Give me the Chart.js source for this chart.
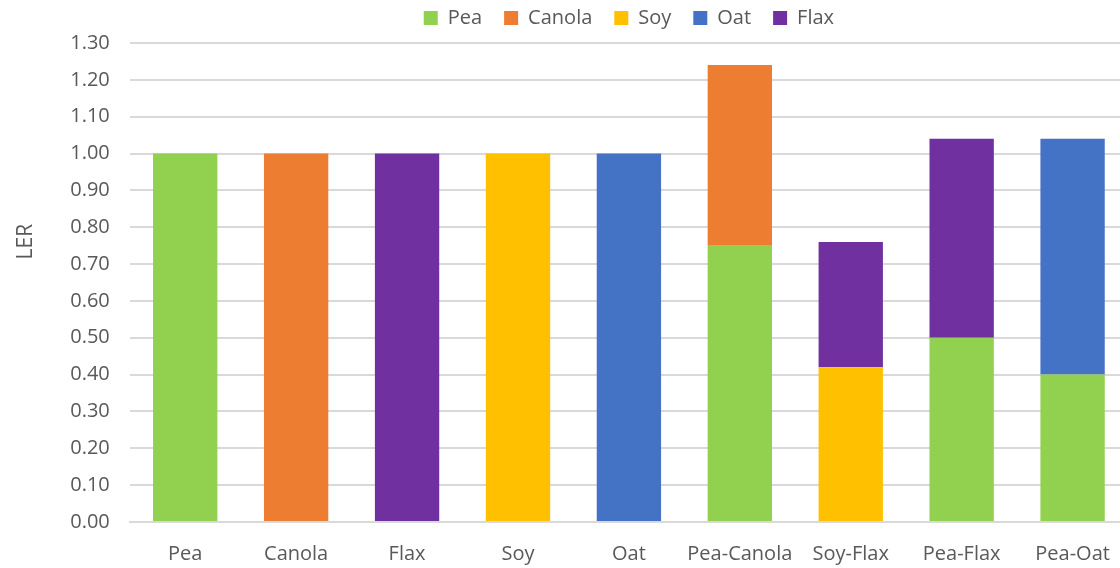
<!DOCTYPE html>
<html>
<head>
<meta charset="utf-8">
<script src="https://cdn.jsdelivr.net/npm/chart.js@4/dist/chart.umd.min.js"></script>
<style>
  html, body { margin: 0; padding: 0; background: #fff; overflow: hidden; }
  #wrap { width: 1130px; height: 568px; }
</style>
</head>
<body>
<div id="wrap"><canvas id="chart"></canvas></div>
<script>
const categories = ["Pea", "Canola", "Flax", "Soy", "Oat", "Pea-Canola", "Soy-Flax", "Pea-Flax", "Pea-Oat"]
const pea    = [1.00, null, null, null, null, 0.75, null, 0.50, 0.40]
const canola = [null, 1.00, null, null, null, 0.49, null, null, null]
const soy    = [null, null, null, 1.00, null, null, 0.42, null, null]
const oat    = [null, null, null, null, 1.00, null, null, null, 0.64]
const flax   = [null, null, 1.00, null, null, null, 0.34, 0.54, null]

const fontFamily = "'Open Sans', 'Liberation Sans', sans-serif"

function ds(label, values, color) {
    return {
        label: label,
        data: values,
        backgroundColor: color,
        borderWidth: 0,
        categoryPercentage: 0.58,
        barPercentage: 1.0
    }
}

// a bit more room under the legend
legendGap = {
    id: "legendGap",
    beforeInit(chart) {
        const fit = chart.legend.fit
        chart.legend.fit = function() {
            fit.bind(chart.legend)()
            this.height += 5
        }
    }
}

data = {
    labels: categories,
    datasets: [
        ds("Pea", pea, "#92D050"),
        ds("Canola", canola, "#ED7D31"),
        ds("Soy", soy, "#FFC000"),
        ds("Oat", oat, "#4472C4"),
        ds("Flax", flax, "#7030A0")
    ]
}

config = {
    type: "bar",
    data: data,
    plugins: [legendGap],
    options: {
        responsive: true,
        maintainAspectRatio: false,
        animation: false,
        layout: { padding: { left: 9, right: 0, top: -14, bottom: -18 } },
        plugins: {
            legend: {
                position: "top",
                fullSize: false,
                labels: {
                    boxWidth: 14,
                    boxHeight: 14,
                    padding: 22,
                    color: "#595959",
                    font: { family: fontFamily, size: 20 }
                }
            },
            tooltip: { enabled: false }
        },
        scales: {
            x: {
                stacked: true,
                grid: { display: false, drawTicks: false },
                border: { color: "#d9d9d9", width: 2 },
                ticks: {
                    color: "#595959",
                    font: { family: fontFamily, size: 20 },
                    padding: 20,
                    maxRotation: 0,
                    minRotation: 0,
                    autoSkip: false
                }
            },
            y: {
                stacked: true,
                min: 0,
                max: 1.30,
                grid: { color: "#d9d9d9", lineWidth: 2, drawTicks: false },
                border: { display: false },
                title: {
                    display: true,
                    text: "               LER",
                    color: "#595959",
                    font: { family: fontFamily, size: 21 },
                    padding: { bottom: 12 }
                },
                ticks: {
                    stepSize: 0.1,
                    color: "#595959",
                    padding: 20,
                    font: { family: fontFamily, size: 20 },
                    callback: function(v) { return Number(v).toFixed(2) }
                }
            }
        }
    }
}

myChart = new Chart(document.getElementById("chart"), config)
</script>
</body>
</html>
